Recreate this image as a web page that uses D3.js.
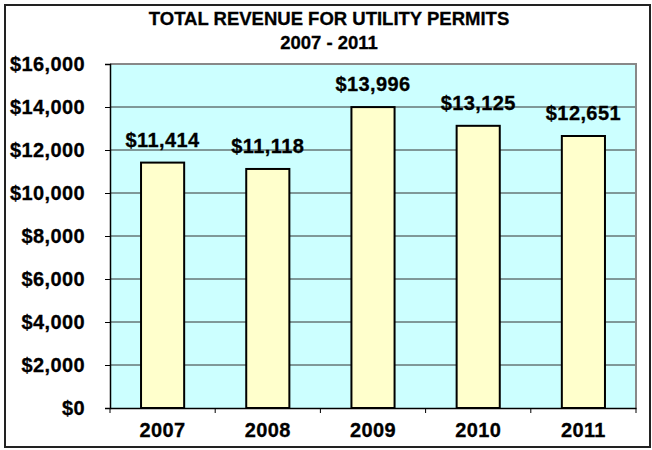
<!DOCTYPE html>
<html>
<head>
<meta charset="utf-8">
<script src="https://cdn.jsdelivr.net/npm/d3@7"></script>
<style>
  body { margin: 0; background: #fff; }
  svg text { font-family: "Liberation Sans", Arial, sans-serif; font-weight: 700; fill: #000; stroke: #000; stroke-width: 0.3px; }
</style>
</head>
<body>
<svg id="chart"></svg>
<script>
// data
const years = ["2007", "2008", "2009", "2010", "2011"];
const revenue = [11414, 11118, 13996, 13125, 12651];
const yTicks = [0, 2000, 4000, 6000, 8000, 10000, 12000, 14000, 16000];
const titleLines = ["TOTAL REVENUE FOR UTILITY PERMITS", "2007 - 2011"];

const W = 652, H = 450;
const margin = { top: 64, right: 16, bottom: 42, left: 110 };

const svg = d3.select("#chart").attr("width", W).attr("height", H);

// outer frame
svg.append("rect")
    .attr("x", 5).attr("y", 5)
    .attr("width", 645).attr("height", 442)
    .attr("fill", "#fff")
    .attr("stroke", "#222")
    .attr("stroke-width", 2);

const x = d3.scaleBand()
    .domain(years)
    .range([margin.left, W - margin.right])
    .paddingInner(0.59)
    .paddingOuter(0.295);

const y = d3.scaleLinear()
    .domain([0, 16000])
    .range([H - margin.bottom, margin.top]);

// plot background
svg.append("rect")
    .attr("x", margin.left).attr("y", y(16000))
    .attr("width", W - margin.right - margin.left)
    .attr("height", y(0) - y(16000))
    .attr("fill", "#ccffff");

// gridlines
svg.append("g")
    .selectAll("line")
    .data(yTicks.filter(d => d > 0 && d < 16000))
    .join("line")
    .attr("x1", margin.left).attr("x2", W - margin.right)
    .attr("y1", d => y(d)).attr("y2", d => y(d))
    .attr("stroke", "#333")
    .attr("stroke-width", 1);

// plot border top/right (grey)
svg.append("path")
    .attr("d", `M${margin.left},${y(16000)}H${W - margin.right}V${y(0)}`)
    .attr("fill", "none")
    .attr("stroke", "#888")
    .attr("stroke-width", 2);

// bars
svg.append("g")
    .selectAll("rect")
    .data(revenue)
    .join("rect")
    .attr("x", (d, i) => x(years[i]))
    .attr("y", d => y(d))
    .attr("width", x.bandwidth())
    .attr("height", d => y(0) - y(d))
    .attr("fill", "#ffffcc")
    .attr("stroke", "#000")
    .attr("stroke-width", 2);

// y axis
const yAxis = svg.append("g")
    .attr("transform", `translate(${margin.left},0)`)
    .call(d3.axisLeft(y).tickValues(yTicks).tickSize(5).tickPadding(20)
        .tickFormat(d => "$" + d3.format(",")(d)));
yAxis.select(".domain").attr("stroke", "#000").attr("stroke-width", 1.5);
yAxis.selectAll(".tick line").attr("stroke", "#000");
yAxis.selectAll(".tick text")
    .style("font-size", "20px")
    .style("letter-spacing", "0.4px");

// x axis with ticks at category boundaries
const xAxis = svg.append("g")
    .attr("transform", `translate(0,${y(0)})`)
    .call(d3.axisBottom(x).tickSize(0).tickPadding(15));
xAxis.select(".domain").attr("stroke", "#000").attr("stroke-width", 1.5);
xAxis.selectAll(".tick text")
    .style("font-size", "20px")
    .style("letter-spacing", "0.4px");
const step = x.step();
xAxis.append("g")
    .selectAll("line")
    .data(years.concat(["end"]))
    .join("line")
    .attr("x1", (d, i) => margin.left + i * step)
    .attr("x2", (d, i) => margin.left + i * step)
    .attr("y1", 0).attr("y2", 5)
    .attr("stroke", "#000");

// value labels
svg.append("g")
    .selectAll("text")
    .data(revenue)
    .join("text")
    .attr("x", (d, i) => x(years[i]) + x.bandwidth() / 2)
    .attr("y", d => y(d) - 16)
    .attr("text-anchor", "middle")
    .style("font-size", "20px")
    .style("letter-spacing", "0.4px")
    .text(d => "$" + d3.format(",")(d));

// title
svg.append("g")
    .selectAll("text")
    .data(titleLines)
    .join("text")
    .attr("x", 329)
    .attr("y", (d, i) => 25 + i * 24)
    .attr("text-anchor", "middle")
    .style("font-size", "18.5px")
    .text(d => d);
</script>
</body>
</html>
